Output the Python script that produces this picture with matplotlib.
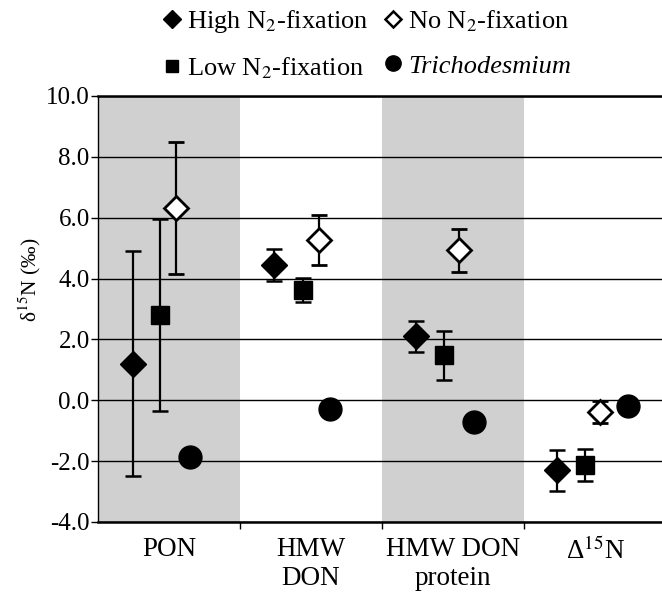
import matplotlib
matplotlib.use("Agg")
import matplotlib.pyplot as plt
import numpy as np
from matplotlib.lines import Line2D

plt.rcParams['font.family'] = ['Liberation Serif', 'DejaVu Serif']
plt.rcParams['mathtext.fontset'] = 'stix'

categories = ["PON", "HMW\nDON", "HMW DON\nprotein", "Δ$^{15}$N"]
series_names = ["High N$_2$-fixation", "Low N$_2$-fixation", "No N$_2$-fixation", "Trichodesmium"]

high_vals = [1.2, 4.45, 2.1, -2.3]
high_err = [3.7, 0.53, 0.52, 0.67]
low_vals = [2.8, 3.63, 1.48, -2.12]
low_err = [3.15, 0.4, 0.8, 0.52]
no_vals = [6.32, 5.28, 4.93, -0.38]
no_err = [2.16, 0.82, 0.7, 0.36]
tricho_vals = [-1.87, -0.3, -0.7, -0.18]

yticks = [-4.0, -2.0, 0.0, 2.0, 4.0, 6.0, 8.0, 10.0]

fig = plt.figure(figsize=(6.62, 5.92), dpi=100)
ax = fig.add_axes([98/662, 70/592, 1 - 98/662, (522 - 96)/592])

idx = np.arange(len(categories))
# shaded category bands
for i in (0, 2):
    ax.axvspan(i, i + 1, color='#d0d0d0', lw=0, zorder=0.5)

# layout offsets within each category band
off_high = np.array([0.245, 0.24, 0.24, 0.235])
off_low = np.array([0.44, 0.445, 0.44, 0.43])
off_no = np.array([0.55, 0.555, 0.54, 0.535])
off_tri = np.array([0.645, 0.635, 0.645, 0.735])

eb = dict(ecolor='black', elinewidth=1.6, capsize=5.5, capthick=1.8, ls='none')
ax.errorbar(idx + off_high, high_vals, yerr=high_err, marker='D', ms=13,
            mfc='black', mec='black', zorder=4, **eb)
ax.errorbar(idx + off_low, low_vals, yerr=low_err, marker='s', ms=12.5,
            mfc='black', mec='black', zorder=4, **eb)
ax.errorbar(idx + off_no, no_vals, yerr=no_err, marker='D', ms=12,
            mfc='white', mec='black', mew=2, zorder=4, **eb)
ax.plot(idx + off_tri, tricho_vals, 'o', ms=16.5, color='black', zorder=5)

ax.set_ylim(-4, 10)
ax.set_xlim(0, 564/142)
ax.set_yticks(yticks)
ax.set_yticklabels([f"{v:.1f}" for v in yticks], fontsize=18)
ax.grid(axis='y', color='black', lw=1.0)
ax.set_axisbelow(False)
for l in ax.get_ygridlines():
    l.set_zorder(1.5)

ax.set_xticks([1, 2, 3])
ax.set_xticklabels([])
ax.set_xticks(idx + 0.5, minor=True)
ax.set_xticklabels(categories, minor=True, fontsize=19.5, linespacing=1.2)
ax.tick_params(axis='x', which='major', length=5, width=1, direction='out')
ax.tick_params(axis='x', which='minor', length=0, pad=11)
ax.tick_params(axis='y', length=5, width=1, direction='out', pad=1)

ax.spines['right'].set_visible(False)
ax.spines['top'].set_linewidth(1.8)
ax.spines['bottom'].set_linewidth(1.8)
ax.spines['left'].set_linewidth(1.0)

fig.text(30/662, 1 - 280/592, "δ$^{15}$N (‰)", rotation=90, ha='center', va='center', fontsize=15.5)

# legend
h_high = Line2D([], [], marker='D', ms=9.2, color='black', ls='none')
h_low = Line2D([], [], marker='s', ms=8.6, color='black', ls='none')
h_no = Line2D([], [], marker='D', ms=8.2, mfc='white', mec='black', mew=1.8, ls='none')
h_tri = Line2D([], [], marker='o', ms=11, color='black', ls='none')
leg = fig.legend([h_high, h_low, h_no, h_tri],
                 [series_names[0], series_names[1], series_names[2], series_names[3]],
                 ncol=2, frameon=False, fontsize=19, loc='upper left',
                 bbox_to_anchor=(161/662, 1 - 8/592), handlelength=0.8,
                 handletextpad=0.17, columnspacing=0.55, labelspacing=0.78,
                 borderpad=0, borderaxespad=0)
leg.get_texts()[3].set_style('italic')

fig.savefig("out.png", dpi=100)
